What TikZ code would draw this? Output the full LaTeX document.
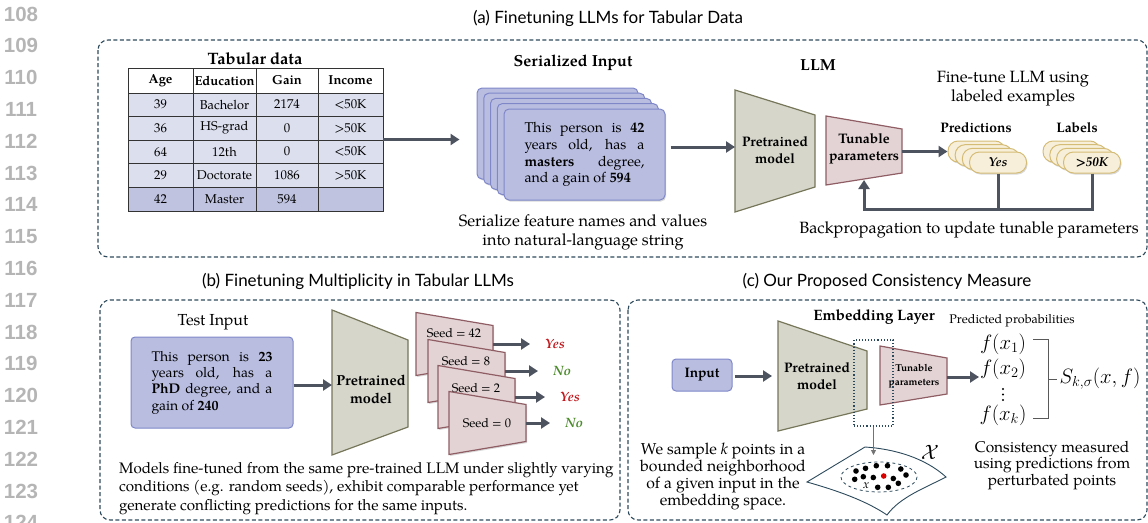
\documentclass[tikz,border=0pt]{standalone}
\usepackage{fontspec}
\setmainfont{TeX Gyre Pagella}
\newfontfamily\gillfont{Lato}
\newfontfamily\numfont{Liberation Sans}
\usetikzlibrary{arrows.meta,shadows}

\definecolor{panelc}{HTML}{2C4A5C}
\definecolor{arrc}{HTML}{4E5360}
\definecolor{rowc}{HTML}{DCDFEE}
\definecolor{lastc}{HTML}{BFC3E0}
\definecolor{cardf}{HTML}{B9BEE1}
\definecolor{cardd}{HTML}{7F87C9}
\definecolor{ptf}{HTML}{D6D6CB}
\definecolor{ptd}{HTML}{76765A}
\definecolor{tunf}{HTML}{E3D3D4}
\definecolor{tund}{HTML}{8F5E65}
\definecolor{pillf}{HTML}{F7EFD9}
\definecolor{pilld}{HTML}{D5BC76}
\definecolor{yesc}{HTML}{C01A1F}
\definecolor{noc}{HTML}{4B8B2B}
\definecolor{numc}{HTML}{B5B5B5}

\tikzset{
    lineno/.style={font=\numfont\bfseries\fontsize{20.5}{20}\selectfont, text=numc, inner sep=0pt},
    panel/.style={draw=panelc, line width=1.1pt, dash pattern=on 4pt off 2.5pt, rounded corners=10pt},
    ptitle/.style={font=\gillfont\fontsize{17}{19}\selectfont, inner sep=0pt},
    txt/.style={font=\fontsize{16.3}{19}\selectfont, align=center, inner sep=0pt},
    head/.style={font=\bfseries\fontsize{13}{15}\selectfont, inner sep=0pt},
    cell/.style={font=\fontsize{12.8}{15}\selectfont, inner sep=0pt},
    lbl/.style={font=\bfseries\fontsize{13.8}{16.5}\selectfont, align=center, inner sep=0pt},
    tabline/.style={draw=black!80, line width=0.9pt},
    arr/.style={draw=arrc, line width=3pt, -{Triangle[length=9pt,width=11pt]}},
    wire/.style={draw=arrc, line width=3pt},
    thinarr/.style={draw=black!55, line width=0.8pt, -{Triangle[length=5pt,width=5pt]}},
    sh/.style={drop shadow={shadow xshift=1pt, shadow yshift=-1.5pt, opacity=0.3}},
    card/.style={draw=cardd, fill=cardf, line width=1pt, rounded corners=5pt, minimum width=161pt, minimum height=91pt, sh},
    inbox/.style={draw=cardd, fill=cardf, line width=1pt, rounded corners=4pt, inner sep=0pt},
    ptm/.style={draw=ptd, fill=ptf, line width=1.2pt},
    tun/.style={draw=tund, fill=tunf, line width=1.2pt},
    pill/.style={draw=pilld, fill=pillf, line width=1pt, rounded corners=10pt, minimum width=57pt, minimum height=21pt, sh, font=\bfseries\itshape\fontsize{13}{15}\selectfont},
    ans/.style={font=\bfseries\itshape\fontsize{13.5}{15}\selectfont, inner sep=0pt},
    seedtxt/.style={font=\fontsize{12.5}{14}\selectfont, inner sep=0pt},
    mathn/.style={font=\fontsize{19.5}{21}\selectfont, inner sep=0pt},
    brk/.style={draw=black!65, line width=1pt},
    spc/.style={draw=panelc, line width=0.9pt},
}

\begin{document}
\begin{tikzpicture}[x=1pt,y=-1pt]
    \useasboundingbox (0,0) rectangle (1148,522);

    \foreach \n [count=\i from 0] in {108,...,124}
        \node[lineno] (ln\n) at (21,14+31.8*\i) {\n};

    \draw[panel] (98,40) rectangle (1147,257);
    \draw[panel] (100,300) rectangle (620,520);
    \draw[panel] (628,300) rectangle (1147,520);
    \node[ptitle] (ta) at (608,18) {(a) Finetuning LLMs for Tabular Data};
    \node[ptitle] (tb) at (358,281) {(b) Finetuning Multiplicity in Tabular LLMs};
    \node[ptitle] (tc) at (887,281) {(c) Our Proposed Consistency Measure};

    \fill[rowc] (128,93) rectangle (383,187);
    \fill[lastc] (128,187) rectangle (383,211);
    \foreach \y in {93,116,140,163,187}
        \draw[tabline] (128,\y) -- (383,\y);
    \foreach \x in {193,256,318}
        \draw[tabline] (\x,68) -- (\x,211);
    \draw[tabline] (128,68) rectangle (383,211);
    \node[inner sep=0pt, minimum width=255pt, minimum height=143pt] (tab) at (255.5,139.5) {};
    \node[lbl, font=\bfseries\fontsize{16.5}{18}\selectfont] (tabt) at (255,59) {Tabular data};
    \foreach \t/\x in {Age/160.5, Education/224.5, Gain/287, Income/350.5}
        \node[head] (h\t) at (\x,80.5) {\t};
    \foreach \a/\e/\g/\v [count=\r from 0] in {39/Bachelor/2174/\textless50K, 36/HS-grad/0/\textgreater50K, 64/12th/0/\textless50K, 29/Doctorate/1086/\textgreater50K, 42/Master/594/{}} {
        \node[cell] (a\r) at (160.5,104.5+23.6*\r) {\a};
        \node[cell] (e\r) at (224.5,104.5+23.6*\r) {\e};
        \node[cell] (g\r) at (287,104.5+23.6*\r) {\g};
        \node[cell] (v\r) at (350.5,104.5+23.6*\r) {\v};
    }

    \node[lbl, font=\bfseries\fontsize{16}{18}\selectfont] (sert) at (573,63) {Serialized Input};
    \foreach \i in {0,...,3}
        \node[card] (card\i) at (557.5+6.75*\i,133.5+5.2*\i) {};
    \node[card, font=\fontsize{14.2}{16.8}\selectfont, align=left] (cardF) at (584.5,154.5) {\makebox[120pt][s]{This person is \textbf{42}}\\\makebox[120pt][s]{years old, has a}\\\makebox[120pt][s]{\textbf{masters} degree,}\\and a gain of \textbf{594}};
    \node[txt] (sern) at (583,232.5) {Serialize feature names and values\\into natural-language string};
    \draw[arr, shorten >=17pt] (tab.east) -- (tab.east -| card0.west);

    \node[lbl, font=\bfseries\fontsize{16}{18}\selectfont] (llm) at (818,65) {LLM};
    \draw[ptm] (735,90) -- (815,115) -- (815,187) -- (735,212) -- cycle;
    \node[lbl] (ptA) at (775,150) {Pretrained\\model};
    \coordinate (ptAin) at (735,147);
    \draw[arr, shorten <=5pt] (cardF.east |- ptAin) -- (ptAin);
    \draw[tun] (826,116) -- (902,129) -- (902,173) -- (826,185) -- cycle;
    \node[lbl] (tunA) at (864,149) {Tunable\\parameters};
    \coordinate (tunAout) at (902,151.5);
    \coordinate (tunAin) at (864,180);

    \node[txt] (ft) at (1013,88.5) {Fine-tune LLM using\\labeled examples};
    \node[lbl] (predt) at (976,128) {Predictions};
    \node[lbl] (labt) at (1077,128) {Labels};
    \foreach \i in {0,1,2} {
        \node[pill] (pred\i) at (976.5+7.17*\i,151.5+3.67*\i) {};
        \node[pill] (lab\i) at (1071.5+6.83*\i,151.5+3.67*\i) {};
    }
    \node[pill] (predF) at (998,162.5) {Yes};
    \node[pill] (labF) at (1092,162.5) {\textgreater50K};
    \draw[arr] (tunAout) -- (pred0.west);
    \coordinate (fb) at (998,209);
    \draw[wire] (labF.south) |- (fb);
    \draw[arr] (predF.south) -- (fb) -| (tunAin);
    \node[txt] (bp) at (969,230) {Backpropagation to update tunable parameters};

    \node[font=\fontsize{16}{19}\selectfont, inner sep=0pt] (tit) at (213,322) {Test Input};
    \node[inbox, minimum width=162pt, minimum height=91pt, font=\fontsize{14}{16.3}\selectfont, align=left] (tin) at (212,382.5) {\makebox[121pt][s]{This person is \textbf{23}}\\\makebox[121pt][s]{years old, has a}\\\makebox[121pt][s]{\textbf{PhD} degree, and a}\\gain of \textbf{240}};
    \draw[ptm] (332,310) -- (408,340) -- (408,427) -- (332,455) -- cycle;
    \node[lbl, font=\bfseries\fontsize{14.5}{18}\selectfont] (ptB) at (371,389) {Pretrained\\model};
    \coordinate (ptBin) at (332,385);
    \draw[arr] (tin.east |- ptBin) -- (ptBin);
    \foreach \x/\y/\d/\s/\t/\w/\c [count=\i] in {416/344/-11/42/530/Yes/yesc, 428/371/-10/8/538/No/noc, 438/397/-9/2/545/Yes/yesc, 449/423/0/0/550/No/noc} {
        \path[tun, sh] (\x,\y-31.5) -- (\x+77,\y-18.5) -- (\x+77,\y+18.5) -- (\x,\y+31.5) -- cycle;
        \node[seedtxt] (seed\i) at (\x+38,\y+\d) {Seed = \s};
        \coordinate (so\i) at (\x+77,\y);
        \node[ans, text=\c, anchor=west] (ans\i) at (\t+15,\y) {\w};
    }
    \foreach \i in {1,...,4}
        \draw[arr, shorten >=15pt] (so\i) -- (ans\i.west);
    \node[txt, font=\fontsize{15.2}{18.5}\selectfont, align=left, anchor=west] (capB) at (119,488.5) {Models fine-tuned from the same pre-trained LLM under slightly varying\\conditions (e.g. random seeds), exhibit comparable performance yet\\generate conflicting predictions for the same inputs.};

    \node[inbox, minimum width=60pt, minimum height=32pt, font=\bfseries\fontsize{13.8}{15}\selectfont] (inp) at (702,375) {Input};
    \draw[ptm] (778,321) -- (867,351) -- (867,409) -- (778,431) -- cycle;
    \node[lbl] (ptC) at (817,376) {Pretrained\\model};
    \coordinate (ptCin) at (772,376);
    \draw[arr, shorten <=2pt] (inp.east |- ptCin) -- (ptCin);
    \draw[tun] (880,346) -- (947,358) -- (947,394) -- (880,405) -- cycle;
    \node[lbl, font=\bfseries\fontsize{10}{13.5}\selectfont] (tunC) at (914,376) {Tunable\\parameters};
    \node[draw=panelc, line width=1.1pt, dotted, minimum width=39pt, minimum height=86pt, inner sep=0pt] (emb) at (873.5,383) {};
    \node[lbl, font=\bfseries\fontsize{15}{17}\selectfont] (embt) at (874,317) {Embedding Layer};
    \coordinate (tunCout) at (947,377);
    \coordinate (fin) at (979,377);
    \draw[arr] (tunCout) -- (fin);

    \node[txt, font=\fontsize{12.5}{14}\selectfont] (pp) at (1012,321) {Predicted probabilities};
    \node[mathn] (f1) at (1003,344) {$f(x_1)$};
    \node[mathn] (f2) at (1003,369) {$f(x_2)$};
    \foreach \y in {389,394.5,400}
        \fill (1003,\y) circle (1.1);
    \node[mathn] (fk) at (1003,415) {$f(x_k)$};
    \draw[brk] (1033,339) -- (1048,339) -- (1048,418) -- (1033,418);
    \draw[brk] (1048,379) -- (1057,379);
    \node[mathn] (skf) at (1100,379) {$S_{k,\sigma}(x,f)$};
    \node[txt, font=\fontsize{15.5}{16.5}\selectfont] (cm) at (1052,465.5) {Consistency measured\\using predictions from\\perturbated points};
    \node[txt, font=\fontsize{15.8}{17}\selectfont] (ws) at (723,476.5) {We sample \textit{k} points in a\\bounded neighborhood\\of a given input in the\\embedding space.};

    \draw[spc] (807,482) -- (865,447) .. controls (895,449) and (925,458) .. (946,477) .. controls (925,488) and (900,497) .. (887,515) .. controls (865,500) and (835,490) .. cycle;
    \draw[panelc, line width=0.8pt, dashed] (879,477) ellipse (38 and 15);
    \foreach \p in {(856,471),(865.5,468.3),(876.3,465.7),(887.5,465.7),(900.8,469),(854.7,479.3),(863.3,476.7),(873.3,477.5),(893.3,478.5),(906,475),(898.3,483.3),(877.7,487.3),(888.3,487.3)}
        \fill \p circle (2.8);
    \fill[red!85!black] (883.7,476) circle (2.8);
    \node[font=\itshape\fontsize{12}{14}\selectfont, inner sep=0pt] (xl) at (866,486) {x};
    \node[font=\fontsize{20}{22}\selectfont, inner sep=0pt] (xsp) at (930,452) {$\mathcal{X}$};
    \coordinate (spTop) at (873.5,455);
    \draw[thinarr] (emb.south) -- (spTop);
\end{tikzpicture}
\end{document}
